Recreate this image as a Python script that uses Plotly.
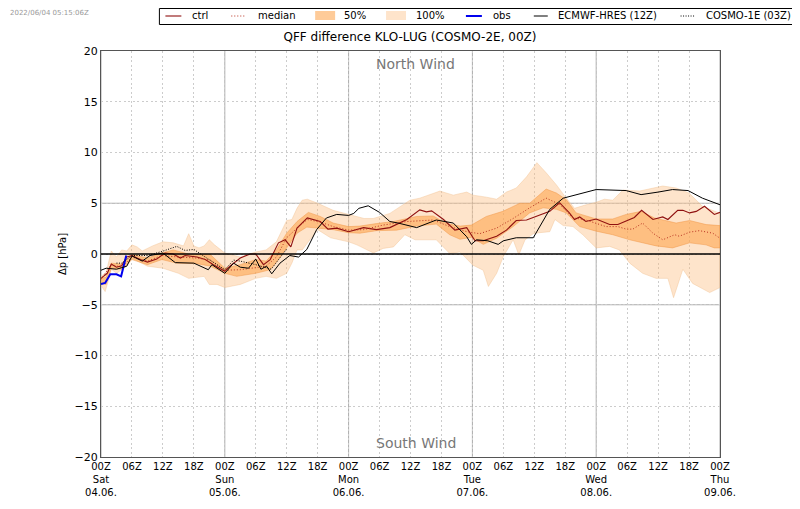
import plotly.graph_objects as go

# all series in hPa against forecast hour (00Z 04.06. = 0)
full_up_h = [0, 1, 2, 3, 4, 5, 6, 7, 8, 10, 12, 14, 16, 17, 18, 19, 20, 21, 22, 24, 27, 30, 32, 34, 36, 37, 38, 39, 40,
             42, 45, 48, 51, 52.8, 56, 59.9, 61.8, 65.7, 68.3, 70.9, 72.1, 74.7, 76.7, 78.6, 80.5, 82.5, 84.5,
             86.3, 88.3, 89.9, 91.8, 93.7, 96, 97.6, 99.2, 101.2, 104.4, 108.9, 111.5, 114, 116.6, 120]
full_up = [-2.2, -1.8, 0.3, -0.3, 0.4, 0.3, 0.9, 0.7, 0.3, 0.8, 1.2, 1.1, 0.8, 2.0, 0.8, 0.6, 0.8, 1.4, 0.9, 0.1, -0.3,
           0.2, 0.4, 1.2, 3.3, 3.4, 4.5, 5.3, 5.4, 5.0, 4.3, 3.9, 3.5, 3.5, 4.0, 5.3, 5.5, 6.2, 5.8, 6.1, 5.8, 5.6, 5.4,
           6.1, 6.5, 7.6, 9.0, 8.0, 6.8, 5.7, 4.5, 4.8, 5.1, 5.4, 5.3, 6.3, 6.2, 6.7, 6.5, 6.0, 4.7, 4.0]
full_lo_h = [0, 0.8, 1.5, 2, 3, 5, 6, 9, 12, 15, 17, 20, 21, 22.5, 24, 27, 30, 32, 34, 36, 37, 38, 39, 42, 44.5, 48,
             49.6, 52.8, 54.7, 56.7, 58.9, 60.9, 65, 67.6, 69.6, 72.1, 74.1, 75.1, 76.7, 78, 79.9, 81, 82.2, 83.8,
             85, 87, 88, 89.6, 91.5, 93.4, 96, 98.6, 100.5, 102.5, 105, 107.6, 109.9, 111, 112.8, 114.7, 118, 120]
full_lo = [-3.1, -3.7, -2.5, -1.5, -1.9, -1.2, -0.4, -1.2, -1.4, -1.9, -2.4, -2.2, -3.0, -3.0, -3.3, -3.0, -2.4, -2.2,
           -2.4, -1.9, -0.9, 0.4, 0.4, 2.4, 1.6, 1.2, 0.9, 0.1, 0.55, 0.7, 1.9, 1.4, 1.4, 0.05, 0.2, -1.1, -1.6, -3.2,
           -1.9, -0.25, 1.4, -0.1, 1.4, 2.0, 2.1, 2.2, 3.4, 2.8, 2.7, 1.9, 0.6, 0.75, 0.4, -0.9, -1.9, -2.4, -2.4, -4.3,
           -1.5, -2.9, -3.8, -3.3]

half_up_h = [0, 1, 2, 4, 6, 9, 11.8, 14, 17.3, 21.2, 24, 27, 30, 32, 34, 36, 38, 40.2, 42.5, 45, 48, 50.2, 53.4, 56.7,
             61.2, 64.4, 67, 69.6, 71.8, 74.7, 77.9, 81.2, 83.1, 86.3, 88.3, 90.2, 92.1, 96, 99.2, 101.8, 104.7, 107.3,
             111.5, 114.1, 117.3, 120]
half_up = [-2.4, -2.3, -0.9, -1.0, -0.05, -0.4, 0.1, 0.4, -0.05, -0.05, -1.4, -1.05, -0.55, -0.7, 0.4, 2.05, 3.2, 4.1,
           3.7, 3.05, 2.7, 2.75, 3.0, 3.2, 3.7, 3.75, 3.0, 2.75, 2.85, 3.7, 4.2, 5.0, 5.0, 6.4, 6.0, 5.35, 4.05, 3.45,
           3.45, 3.9, 4.2, 3.55, 3.05, 3.3, 2.9, 2.8]
half_lo_h = [0, 1, 2, 4, 6, 9, 11.8, 14.7, 18.6, 21.2, 24, 26.3, 30, 32.8, 34.4, 36, 38, 39.9, 42.5, 45, 48, 50.2, 53.4,
             57.3, 61.2, 65, 67.6, 69.6, 71.8, 74.1, 76.7, 79.9, 83.1, 85.7, 88.3, 90.2, 92.8, 96, 99.2, 102.5, 107.6,
             110.8, 114.1, 117.3, 118.9, 120]
half_lo = [-2.9, -3.0, -1.4, -1.5, -0.55, -1.05, -0.55, -0.9, -0.95, -1.2, -1.9, -2.2, -1.9, -1.55, -0.55, 0.6, 2.05,
           2.65, 2.55, 2.4, 2.1, 2.05, 2.3, 2.35, 2.75, 2.95, 1.9, 1.45, 1.65, 0.95, 1.55, 2.7, 4.05, 4.55, 4.4, 4.05,
           2.7, 2.25, 1.9, 1.4, 0.8, 0.6, 1.1, 0.9, 0.6, 0.6]

median_h = [0, 2, 4, 6, 9, 11.8, 15, 18.6, 21.2, 24, 27, 30, 32, 34, 36, 38, 40, 42.5, 45, 48, 50.9, 54.7, 59.3, 64.4,
            67.6, 70.9, 73.4, 76.7, 79.9, 83.1, 86.3, 88.9, 91.5, 93.7, 96, 97.9, 100.2, 101.8, 103.1, 105, 107,
            108.9, 111.2, 112.1, 114.1, 116, 118.6, 120]
median = [-2.5, -1.05, -1.3, -0.3, -0.7, -0.15, -0.3, -0.4, -0.6, -1.6, -1.55, -1.3, -1.2, -0.3, 1.6, 2.55, 3.4, 3.15,
          2.7, 2.35, 2.4, 2.85, 3.2, 3.35, 2.7, 2.2, 2.0, 2.55, 3.5, 4.55, 5.5, 4.9, 3.55, 3.4, 3.05, 2.7, 2.7, 2.45,
          2.45, 3.05, 2.05, 1.4, 1.9, 1.75, 2.15, 2.3, 2.05, 1.55]

ctrl_h = [0, 1.2, 2, 3, 4, 5, 6, 7.6, 9, 10.8, 12.4, 14, 15.4, 16.3, 18.6, 20.2, 21.8, 24, 25, 27, 28.9, 30, 31.5, 32.8,
          34.4, 35.7, 36.8, 38, 40, 42.5, 44, 45.7, 48, 50.9, 53.4, 56, 59.3, 61.8, 63.1, 64.1, 66.4, 68.6, 70.9, 72.5,
          74.1, 76.7, 78.6, 80.5, 82.5, 85.1, 87, 88.9, 90.8, 91.8, 92.8, 94, 96, 98.6, 100.2, 103.4, 104.8, 107,
          108.9, 109.9, 111.8, 112.8, 114.1, 115.4, 117, 118.9, 120]
ctrl = [-2.4, -1.9, -1.0, -1.3, -1.15, -0.3, -0.15, -0.55, -0.8, -0.5, 0.1, 0.0, -0.4, -0.15, -0.3, -0.55, -1.05, -1.7,
        -1.2, -0.4, 0.0, 0.0, -1.05, -0.55, 1.1, 1.4, 0.7, 2.55, 3.55, 3.2, 2.45, 2.55, 2.2, 2.6, 2.4, 2.6, 3.4, 4.35,
        4.15, 4.25, 3.4, 2.35, 2.6, 1.3, 1.3, 1.75, 2.35, 3.3, 3.35, 3.8, 4.2, 5.05, 4.05, 3.4, 3.65, 3.2, 3.45, 2.9,
        2.9, 3.6, 4.3, 3.4, 3.65, 3.4, 4.3, 4.3, 4.05, 4.2, 4.7, 3.9, 4.1]

obs_h = [0, 0.8, 1.8, 3, 3.9, 4.9]
obs = [-2.95, -2.85, -2.0, -2.0, -2.2, -0.15]

ecmwf_h = [0, 1, 3, 5, 6, 8, 9.5, 12, 14.4, 18, 20.8, 21.5, 24, 25.7, 27, 28.6, 30, 31, 32.1, 33.1, 34.7, 36.6, 38.3,
           39.9, 41.8, 43.7, 45.7, 47.6, 48, 49, 50, 51.8, 54, 56, 57.6, 61.2, 65, 68.3, 69.6, 70.9, 71.8, 72.8, 75,
           77, 78, 80.5, 83.8, 87, 89.6, 92.8, 96, 101.8, 104.7, 108, 110.8, 113.8, 116.6, 120]
ecmwf = [-1.6, -1.4, -1.5, -1.2, -0.2, -0.7, -0.15, 0.1, -0.85, -0.9, -1.55, -1.05, -1.9, -0.9, -1.3, -1.4, -0.5, -1.5,
         -1.2, -1.95, -0.9, -0.15, -0.3, 0.45, 2.4, 3.55, 3.9, 3.8, 3.8, 4.0, 4.5, 4.75, 4.1, 3.2, 3.05, 2.6, 3.35,
         3.05, 2.35, 1.7, 0.95, 1.4, 1.3, 0.95, 1.3, 1.6, 1.6, 4.4, 5.5, 5.95, 6.35, 6.25, 5.85, 6.1, 6.35, 6.25,
         5.5, 4.85]

cosmo1e_h = [3, 4, 6, 9, 11.8, 14.7, 16.3, 18, 20.5, 24, 25.7, 27, 30, 33, 36]
cosmo1e = [-0.9, -0.9, -0.15, -0.15, 0.25, 0.75, 0.35, 0.45, -0.4, -1.55, -0.6, -0.7, -1.05, -1.5, 0.5]

day_labels = [('Sat', '04.06.'), ('Sun', '05.06.'), ('Mon', '06.06.'), ('Tue', '07.06.'), ('Wed', '08.06.'),
              ('Thu', '09.06.')]
hour_ticks = list(range(0, 121, 6))
hour_text = []
for h in hour_ticks:
    label = '%02dZ' % (h % 24)
    if h % 24 == 0:
        day = day_labels[h // 24]
        label += '<br>' + day[0] + '<br>' + day[1]
    hour_text.append(label)

FONT = 'DejaVu Sans'
GRID_DOT = '2px,2.5px'
CTRL_LINE = dict(color='#8f1010', width=1.1)
MEDIAN_LINE = dict(color='#b83020', width=1, dash='1px,2px')
OBS_LINE = dict(color='#0000ee', width=2)
ECMWF_LINE = dict(color='black', width=1)
COSMO_LINE = dict(color='black', width=1, dash='1px,1.5px')
FULL_FILL = 'rgba(253,190,130,0.42)'
HALF_FILL = 'rgba(253,160,70,0.55)'

# page body adds 8px at top and left, so these map screen pixels to paper coordinates
MARGIN_L, MARGIN_T, PLOT_W, PLOT_H = 92.5, 43, 620, 406


def px_x(x):
    return (x - 8 - MARGIN_L) / PLOT_W


def px_y(y):
    return 1 - (y - 8 - MARGIN_T) / PLOT_H


fig = go.Figure()
fig.add_trace(go.Scatter(x=full_up_h + full_lo_h[::-1], y=full_up + full_lo[::-1], mode='lines', fill='toself',
                         name='100%', fillcolor=FULL_FILL, line=dict(color='rgba(240,190,140,0.5)', width=0.8)))
fig.add_trace(go.Scatter(x=half_up_h + half_lo_h[::-1], y=half_up + half_lo[::-1], mode='lines', fill='toself',
                         name='50%', fillcolor=HALF_FILL, line=dict(color='rgba(240,150,70,0.6)', width=0.8)))
fig.add_trace(go.Scatter(x=ctrl_h, y=ctrl, mode='lines', name='ctrl', line=CTRL_LINE))
fig.add_trace(go.Scatter(x=median_h, y=median, mode='lines', name='median', line=MEDIAN_LINE))
fig.add_trace(go.Scatter(x=obs_h, y=obs, mode='lines', name='obs', line=OBS_LINE))
fig.add_trace(go.Scatter(x=ecmwf_h, y=ecmwf, mode='lines', name='ECMWF-HRES (12Z)', line=ECMWF_LINE))
fig.add_trace(go.Scatter(x=cosmo1e_h, y=cosmo1e, mode='lines', name='COSMO-1E (03Z)', line=COSMO_LINE))

for h in range(0, 121, 24):
    fig.add_vline(x=h, line=dict(color='#aaaaaa', width=1), layer='below')
for v in [-5, 5]:
    fig.add_hline(y=v, line=dict(color='#aaaaaa', width=1), layer='below')
fig.add_hline(y=0, line=dict(color='black', width=1.5), layer='above')

fig.add_annotation(x=0.5, xref='x domain', y=18.7, text='North Wind', showarrow=False, xshift=5,
                   font=dict(size=14, color='#777777', family=FONT))
fig.add_annotation(x=0.5, xref='x domain', y=-18.6, text='South Wind', showarrow=False, xshift=5,
                   font=dict(size=14, color='#777777', family=FONT))
fig.add_annotation(x=px_x(8), xref='paper', xanchor='left', y=px_y(13), yref='paper', yanchor='middle',
                   showarrow=False, borderpad=0, text='2022/06/04 05:15:06Z',
                   font=dict(size=7, color='#999999', family=FONT))

# legend box drawn by hand, the native one cannot sit this high without pushing the plot down
fig.add_shape(type='rect', xref='paper', yref='paper', x0=px_x(159), x1=px_x(796), y0=px_y(8.5), y1=px_y(24.5),
              line=dict(color='black', width=1), fillcolor='white', layer='above')
legend_entries = [
    ('ctrl', 165, 181, 191, CTRL_LINE, None),
    ('median', 231, 245, 257, MEDIAN_LINE, None),
    ('50%', 315, 335, 343, None, HALF_FILL),
    ('100%', 386, 406, 415, None, FULL_FILL),
    ('obs', 466, 482, 492, OBS_LINE, None),
    ('ECMWF-HRES (12Z)', 534, 548, 557, ECMWF_LINE, None),
    ('COSMO-1E (03Z)', 681, 696, 705, COSMO_LINE, None),
]
for name, x0, x1, tx, line, fill in legend_entries:
    if fill:
        fig.add_shape(type='rect', xref='paper', yref='paper', x0=px_x(x0), x1=px_x(x1), y0=px_y(11), y1=px_y(20),
                      fillcolor=fill, line=dict(width=0), layer='above')
    else:
        fig.add_shape(type='line', xref='paper', yref='paper', x0=px_x(x0), x1=px_x(x1), y0=px_y(16), y1=px_y(16),
                      line=line, layer='above')
    fig.add_annotation(x=px_x(tx), xref='paper', xanchor='left', y=px_y(16), yref='paper', yanchor='middle',
                       showarrow=False, borderpad=0, text=name, font=dict(size=10, color='black', family=FONT))

fig.update_layout(
    width=800, height=509, autosize=False,
    paper_bgcolor='white', plot_bgcolor='white',
    margin=dict(l=MARGIN_L, r=87.5, t=MARGIN_T, b=60),
    font=dict(family=FONT, size=10, color='black'),
    title=dict(text='QFF difference KLO-LUG (COSMO-2E, 00Z)', x=0.5025, xanchor='center', y=0.943, yanchor='middle',
               font=dict(size=12, family=FONT, color='black')),
    showlegend=False,
    xaxis=dict(range=[0, 120], tickvals=hour_ticks, ticktext=hour_text, tickangle=0, showgrid=True,
               griddash=GRID_DOT, gridcolor='#cccccc', gridwidth=1, zeroline=False, showline=True,
               linecolor='#555555', linewidth=1, mirror=True, ticks='', tickfont=dict(size=10, family=FONT)),
    yaxis=dict(range=[-20, 20], dtick=5, showgrid=True, griddash=GRID_DOT, gridcolor='#cccccc', gridwidth=1,
               zeroline=False, showline=True, linecolor='#555555', linewidth=1, mirror=True, ticks='',
               tickfont=dict(size=11, family=FONT), title=dict(text='Δp [hPa]', font=dict(size=10, family=FONT),
                                                              standoff=6)),
)

fig.write_html("out.html")
